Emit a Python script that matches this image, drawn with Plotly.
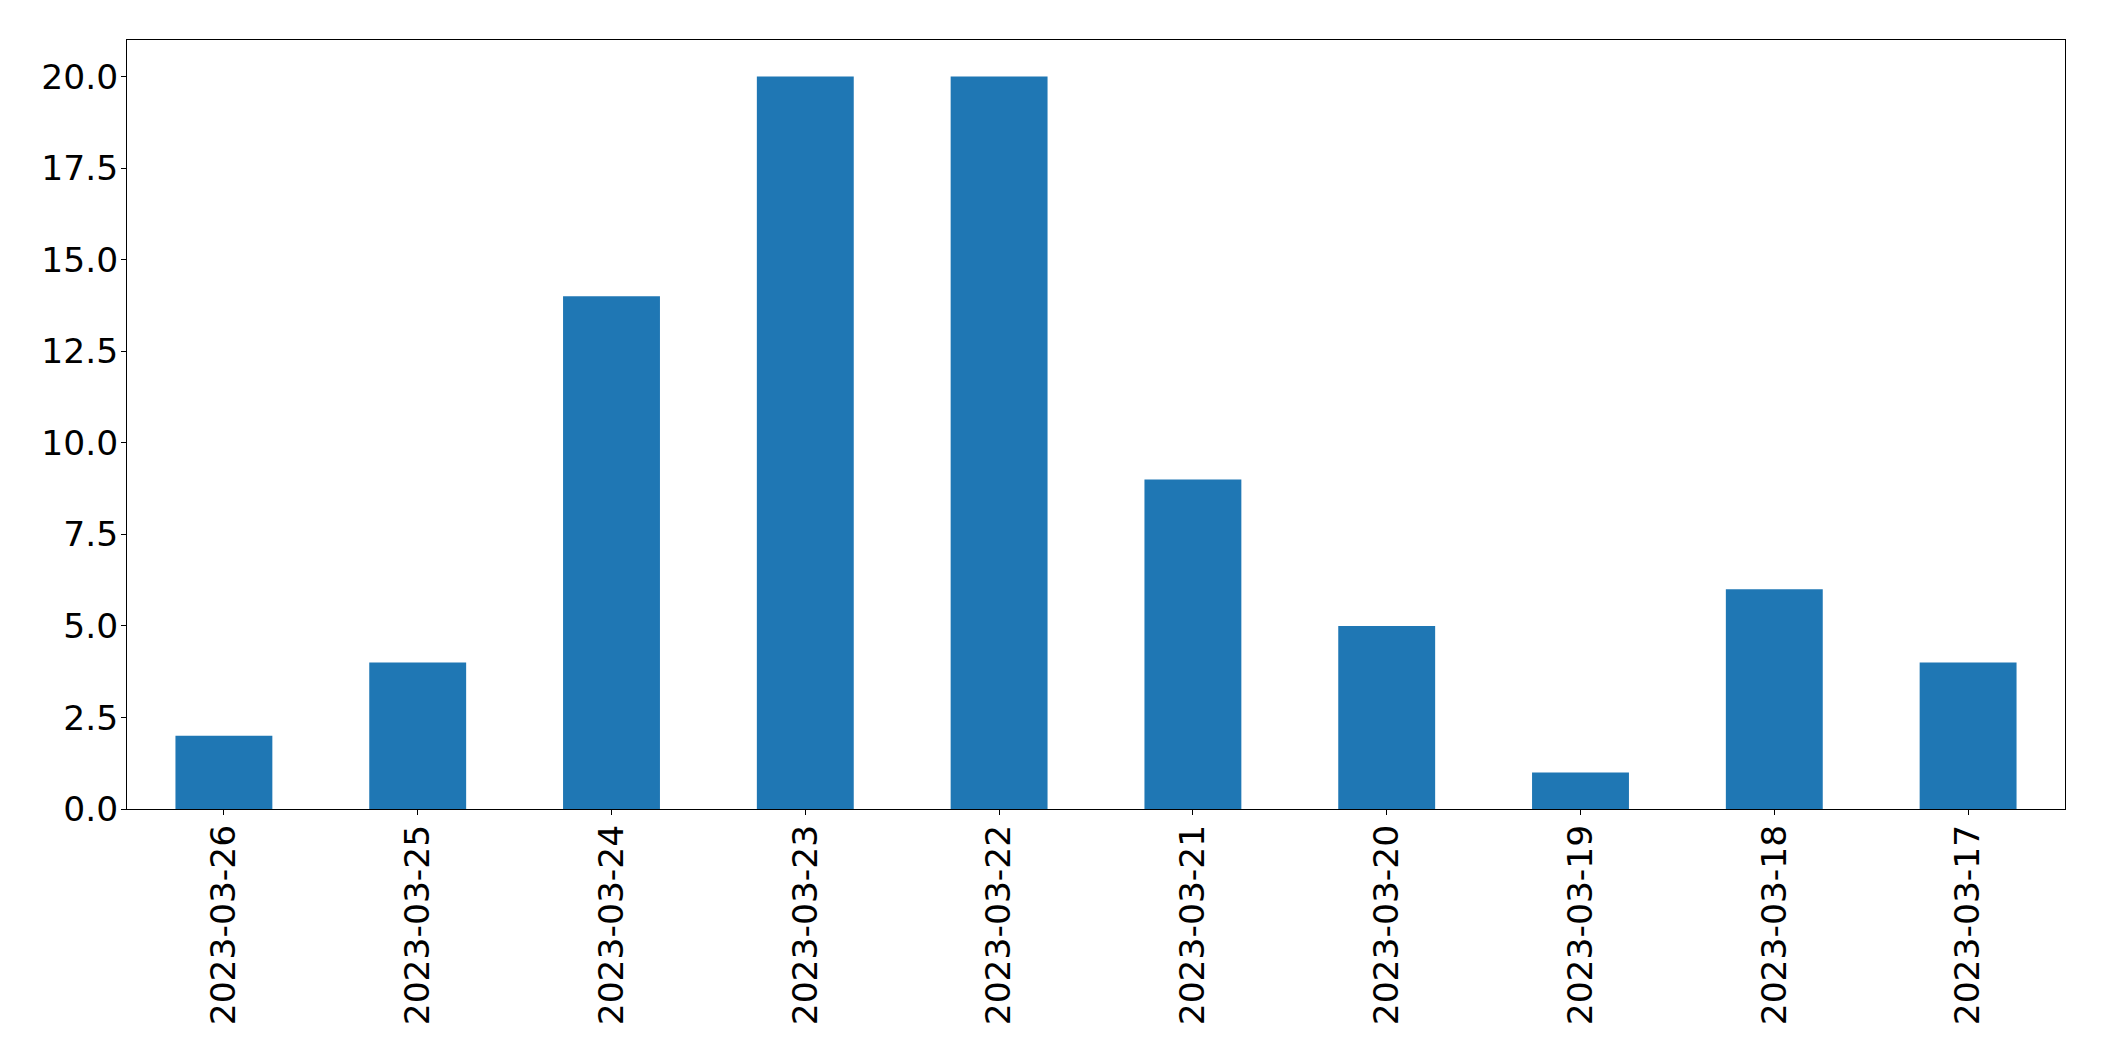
import plotly.graph_objects as go

dates = ["2023-03-26", "2023-03-25", "2023-03-24", "2023-03-23", "2023-03-22",
         "2023-03-21", "2023-03-20", "2023-03-19", "2023-03-18", "2023-03-17"]
counts = [2, 4, 14, 20, 20, 9, 5, 1, 6, 4]
y_ticks = [0, 2.5, 5, 7.5, 10, 12.5, 15, 17.5, 20]
y_tick_labels = ["0.0", "2.5", "5.0", "7.5", "10.0", "12.5", "15.0", "17.5", "20.0"]

fig = go.Figure(go.Bar(x=dates, y=counts, marker=dict(color="#1f77b4", line=dict(width=0))))

fig.update_layout(
    width=2104, height=1061, autosize=False,
    margin=dict(l=127, r=39, t=40, b=252, pad=0),
    plot_bgcolor="white", paper_bgcolor="white",
    bargap=0.5, showlegend=False,
    font=dict(family="DejaVu Sans", size=34.5, color="black"),
)
fig.update_xaxes(
    type="category", categoryorder="array", categoryarray=dates,
    range=[-0.5, 9.5], tickangle=-90,
    showline=True, linecolor="black", linewidth=1, mirror=True,
    ticks="outside", ticklen=5, tickwidth=1, tickcolor="black",
    showgrid=False, zeroline=False, ticklabelstandoff=-4,
)
fig.update_yaxes(
    range=[0, 21], tickvals=y_ticks, ticktext=y_tick_labels,
    showline=True, linecolor="black", linewidth=1, mirror=True,
    ticks="outside", ticklen=5, tickwidth=1, tickcolor="black",
    showgrid=False, zeroline=False, ticklabelstandoff=-4,
)
fig.write_html("out.html")
